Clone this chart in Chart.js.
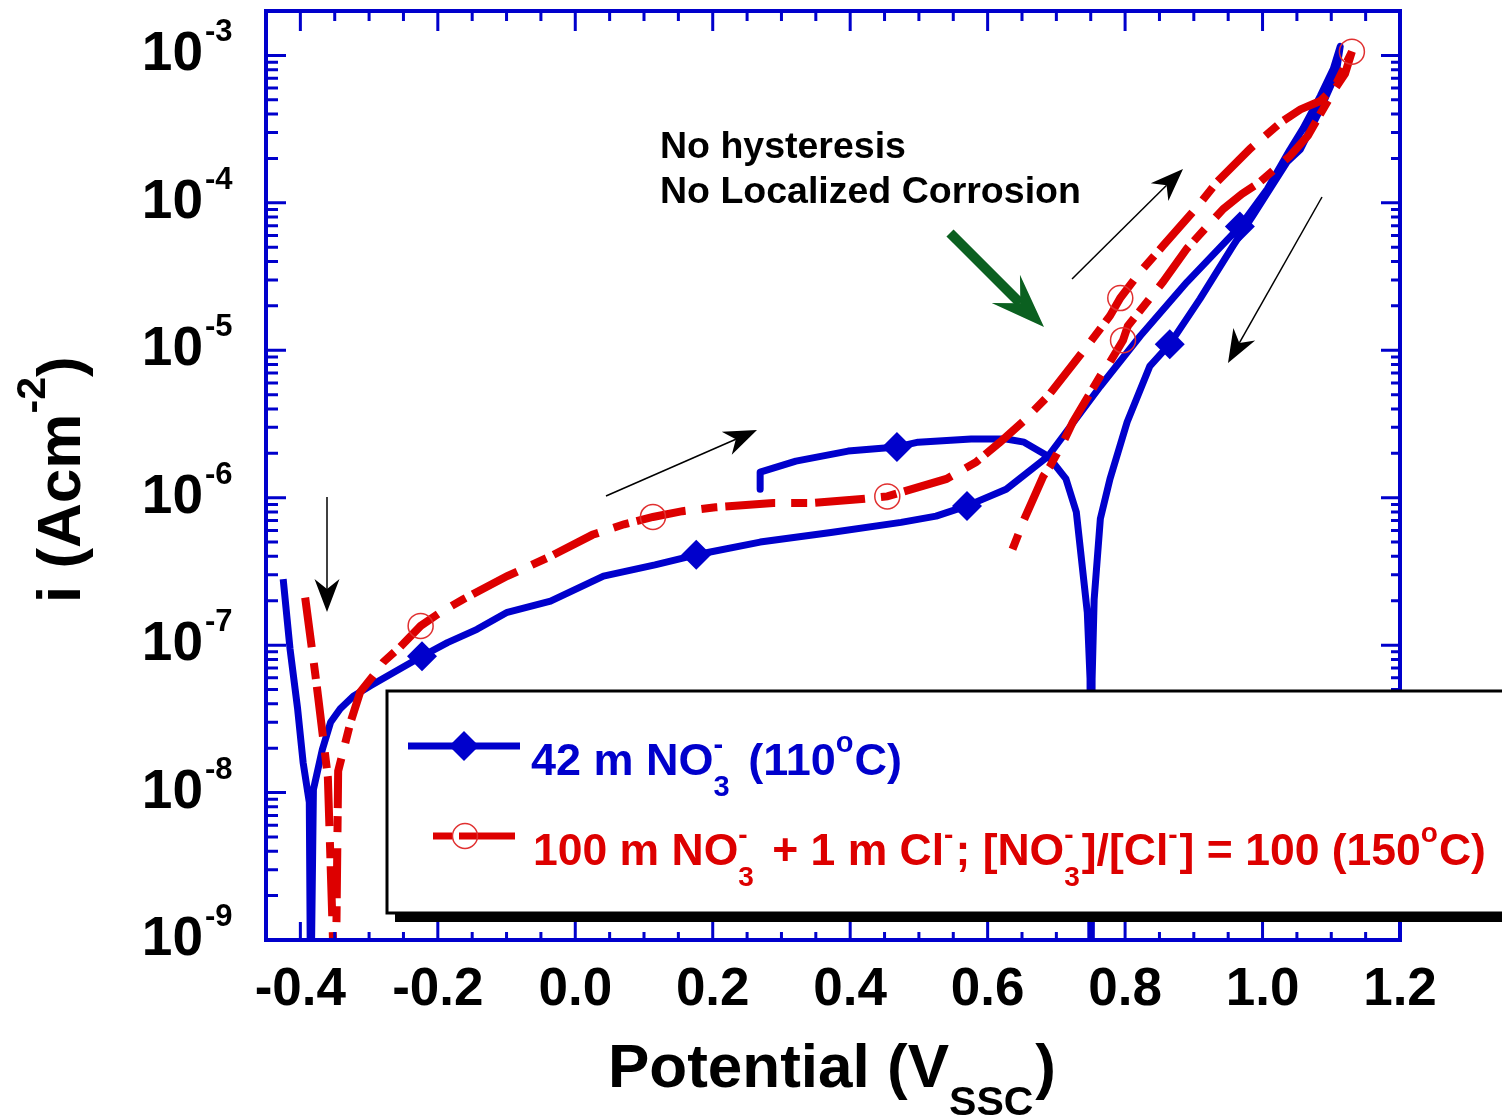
<!DOCTYPE html>
<html><head><meta charset="utf-8">
<script src="https://cdn.jsdelivr.net/npm/chart.js@4.4.1/dist/chart.umd.min.js"></script>
<style>html,body{margin:0;padding:0;background:#fff;} #wrap{width:1502px;height:1118px;position:relative;overflow:hidden;}</style>
</head><body><div id="wrap"><canvas id="c" width="1502" height="1118"></canvas></div>
<script>
// ---------- DATA ----------
// Potential (V vs SSC) and current density (A/cm2), series 1: 42 m NO3- (110 C), forward then reverse scan
const blueV = [-0.425,-0.415,-0.404,-0.396,-0.387,-0.385,-0.381,-0.368,-0.356,-0.342,-0.323,-0.298,-0.265,-0.223,-0.186,-0.143,-0.099,-0.036,0.041,0.116,0.176,0.269,0.372,0.474,0.525,0.570,0.627,0.688,0.764,0.822,0.890,0.967,1.007,1.040,1.059,1.084,1.103,1.113,
  1.107,1.084,1.055,1.036,0.986,0.957,0.909,0.865,0.836,0.803,0.778,0.764,0.755,0.752,0.7505,0.749,0.745,0.729,0.714,0.688,0.653,0.627,0.576,0.499,0.468,0.397,0.321,0.269,0.269];
const blueI = [2.8e-7,9.4e-8,3.7e-8,1.6e-8,8.6e-9,3e-10,1.05e-8,1.96e-8,3.0e-8,3.7e-8,4.5e-8,5.3e-8,6.5e-8,8.4e-8,1.04e-7,1.28e-7,1.67e-7,1.99e-7,2.94e-7,3.5e-7,4.1e-7,5.0e-7,5.8e-7,6.8e-7,7.5e-7,8.8e-7,1.14e-6,1.91e-6,5.7e-6,1.25e-5,2.9e-5,6.9e-5,1.24e-4,2.3e-4,3.2e-4,5.3e-4,8.1e-4,1.15e-3,
  7.5e-4,4.3e-4,2.3e-4,1.9e-4,8.2e-5,5.1e-5,2.23e-5,1.10e-5,7.8e-6,3.26e-6,1.34e-6,7.2e-7,2.05e-7,5.9e-8,3e-10,5.9e-8,1.67e-7,8.0e-7,1.34e-6,1.91e-6,2.38e-6,2.50e-6,2.50e-6,2.38e-6,2.21e-6,2.07e-6,1.77e-6,1.49e-6,1.14e-6];
const blueMarkerIdx = [13,20,25,31,45,62];

// series 2: 100 m NO3- + 1 m Cl- (150 C), forward then reverse scan
const redV = [-0.393,-0.378,-0.374,-0.360,-0.349,-0.345,-0.327,-0.313,-0.294,-0.279,-0.255,-0.225,-0.196,-0.163,-0.099,-0.036,0.025,0.071,0.113,0.156,0.204,0.288,0.342,0.417,0.454,0.540,0.583,0.618,0.652,0.688,0.745,0.778,0.793,0.822,0.855,0.905,0.934,0.982,1.028,1.055,1.084,1.105,1.130,
  1.120,1.105,1.084,1.066,1.040,0.996,0.970,0.943,0.890,0.855,0.804,0.797,0.778,0.768,0.724,0.710,0.691,0.681,0.653,0.633];
const redI = [2.1e-7,6.2e-8,4.4e-8,1.27e-8,3e-10,1.4e-8,3.0e-8,4.8e-8,6.2e-8,7.7e-8,9.7e-8,1.35e-7,1.67e-7,2.05e-7,2.94e-7,4.0e-7,5.6e-7,6.6e-7,7.4e-7,8.1e-7,8.6e-7,9.2e-7,9.2e-7,9.8e-7,1.02e-6,1.34e-6,1.74e-6,2.38e-6,3.3e-6,4.9e-6,1.07e-5,1.71e-5,2.26e-5,3.4e-5,5.1e-5,9.4e-5,1.39e-4,2.33e-4,3.55e-4,4.3e-4,4.9e-4,6.1e-4,1.06e-3,
  7.5e-4,5.9e-4,4.0e-4,2.85e-4,2.08e-4,1.38e-4,1.15e-4,9.1e-5,4.9e-5,2.9e-5,1.46e-5,1.17e-5,8.3e-6,7.2e-6,3.26e-6,2.38e-6,1.64e-6,1.40e-6,7.1e-7,4.1e-7];
const redMarkerIdx = [11,18,24,32,42,54];

const xTickValues = [-0.4,-0.2,0.0,0.2,0.4,0.6,0.8,1.0,1.2];
const xTickLabels = ['-0.4','-0.2','0.0','0.2','0.4','0.6','0.8','1.0','1.2'];
const yTickValues = [1e-9,1e-8,1e-7,1e-6,1e-5,1e-4,1e-3];
const yTickExponents = ['-9','-8','-7','-6','-5','-4','-3'];

// ---------- STYLE ----------
const FAM = "'Liberation Sans', Arial, Helvetica, sans-serif";
const BLUE = '#0000cc', RED = '#dd0000', AXIS = '#0000cc', GREEN = '#0b6020';

function drawRich(ctx, x, y, parts, size, small, color) {
  ctx.fillStyle = color; ctx.textAlign = 'left'; ctx.textBaseline = 'alphabetic';
  let cx = x;
  for (const p of parts) {
    if (p.t !== undefined) {
      ctx.font = `bold ${size}px ${FAM}`;
      ctx.fillText(p.t, cx, y); cx += ctx.measureText(p.t).width;
    } else {
      ctx.font = `bold ${small}px ${FAM}`;
      let w = 0;
      if (p.sub) { ctx.fillText(p.sub, cx, y + p.subOff); w = Math.max(w, ctx.measureText(p.sub).width); }
      if (p.sup) { ctx.fillText(p.sup, cx, y - p.supOff); w = Math.max(w, ctx.measureText(p.sup).width); }
      cx += w + (p.after || 0);
    }
  }
  return cx;
}

function arrow(ctx, x1, y1, x2, y2, color, lw, hl, hw, notch) {
  const a = Math.atan2(y2 - y1, x2 - x1), c = Math.cos(a), s = Math.sin(a);
  ctx.save();
  ctx.strokeStyle = color; ctx.fillStyle = color; ctx.lineWidth = lw; ctx.lineCap = 'butt';
  ctx.beginPath(); ctx.moveTo(x1, y1); ctx.lineTo(x2 - c * hl * notch, y2 - s * hl * notch); ctx.stroke();
  const bx = x2 - c * hl, by = y2 - s * hl, px = -s, py = c;
  ctx.beginPath();
  ctx.moveTo(x2, y2);
  ctx.lineTo(bx + px * hw, by + py * hw);
  ctx.lineTo(x2 - c * hl * notch, y2 - s * hl * notch);
  ctx.lineTo(bx - px * hw, by - py * hw);
  ctx.closePath(); ctx.fill();
  ctx.restore();
}

const decor = {
  id: 'decor',
  afterDraw(chart) {
    const ctx = chart.ctx, ca = chart.chartArea, xs = chart.scales.x, ys = chart.scales.y;
    ctx.save();
    // ---- axis frame and ticks ----
    ctx.strokeStyle = AXIS; ctx.lineWidth = 4;
    ctx.strokeRect(ca.left, ca.top, ca.right - ca.left, ca.bottom - ca.top);
    ctx.lineWidth = 3;
    ctx.beginPath();
    for (let k = -8; k <= 23; k++) {
      const v = k * 0.05; const px = xs.getPixelForValue(v);
      const major = (k % 4 === 0);
      const lb = major ? 18 : 8, lt = major ? 20 : 10;
      ctx.moveTo(px, ca.bottom); ctx.lineTo(px, ca.bottom - lb);
      ctx.moveTo(px, ca.top); ctx.lineTo(px, ca.top + lt);
    }
    for (let e = -9; e <= -3; e++) {
      for (let m = 1; m <= 9; m++) {
        const v = m * Math.pow(10, e);
        if (v >= ys.max * 0.999 || (e === -9 && m === 1)) continue;
        const py = ys.getPixelForValue(v);
        const major = m === 1;
        const ll = major ? 20 : 12, lr = major ? 19 : 9;
        ctx.moveTo(ca.left, py); ctx.lineTo(ca.left + ll, py);
        ctx.moveTo(ca.right, py); ctx.lineTo(ca.right - lr, py);
      }
    }
    ctx.stroke();

    // ---- y tick labels 10^n ----
    ctx.fillStyle = '#000';
    yTickValues.forEach((v, i) => {
      const py = ys.getPixelForValue(v);
      ctx.font = `bold 55px ${FAM}`; ctx.textAlign = 'right'; ctx.textBaseline = 'alphabetic';
      ctx.fillText('10', 203, py + 15);
      ctx.font = `bold 31px ${FAM}`; ctx.textAlign = 'left';
      ctx.fillText(yTickExponents[i], 205, py - 14);
    });

    // ---- axis titles ----
    drawRich(ctx, 608, 1087, [{t: 'Potential (V'}, {sub: 'SSC', subOff: 28, after: 2}, {t: ')'}], 62, 41, '#000');
    ctx.save();
    ctx.translate(80, 603); ctx.rotate(-Math.PI / 2);
    drawRich(ctx, 0, 0, [{t: 'i (Acm'}, {sup: '-2', supOff: 35}, {t: ')'}], 62, 41, '#000');
    ctx.restore();

    // ---- annotations ----
    ctx.fillStyle = '#000'; ctx.font = `bold 37.5px ${FAM}`; ctx.textAlign = 'left'; ctx.textBaseline = 'alphabetic';
    ctx.fillText('No hysteresis', 660, 158);
    ctx.fillText('No Localized Corrosion', 660, 203);

    arrow(ctx, 327, 497, 327, 612, '#000', 1.5, 33, 12.5, 0.7);
    arrow(ctx, 606, 496, 757, 430, '#000', 1.5, 33, 12.5, 0.7);
    arrow(ctx, 1072, 279, 1183, 169, '#000', 1.5, 33, 12.5, 0.7);
    arrow(ctx, 1322, 197, 1228, 363, '#000', 1.5, 33, 12.5, 0.7);
    arrow(ctx, 950, 233, 1044, 327, GREEN, 10, 54, 20, 0.62);

    // ---- legend box ----
    const L = 387, T = 691, R = 1520, B = 913;
    ctx.fillStyle = '#000'; ctx.fillRect(L + 8, T + 9, R - L, B - T);
    ctx.fillStyle = '#fff'; ctx.fillRect(L, T, R - L, B - T);
    ctx.strokeStyle = '#000'; ctx.lineWidth = 3; ctx.strokeRect(L, T, R - L, B - T);
    // blue entry
    ctx.strokeStyle = BLUE; ctx.lineWidth = 7; ctx.beginPath(); ctx.moveTo(408, 746); ctx.lineTo(520, 746); ctx.stroke();
    ctx.fillStyle = BLUE; ctx.beginPath();
    ctx.moveTo(464, 731); ctx.lineTo(479, 746); ctx.lineTo(464, 761); ctx.lineTo(449, 746); ctx.closePath(); ctx.fill();
    drawRich(ctx, 531, 775, [{t: '42 m NO'}, {sub: '3', sup: '-', subOff: 21, supOff: 21, after: 6}, {t: ' (110'}, {sup: 'o', supOff: 23, after: 1}, {t: 'C)'}], 45, 29, BLUE);
    // red entry
    ctx.strokeStyle = RED; ctx.lineWidth = 7; ctx.beginPath();
    ctx.moveTo(433, 836); ctx.lineTo(452, 836); ctx.moveTo(459, 836); ctx.lineTo(515, 836); ctx.stroke();
    ctx.strokeStyle = '#e03030'; ctx.lineWidth = 1.5; ctx.beginPath(); ctx.arc(465, 836, 12.5, 0, Math.PI * 2); ctx.stroke();
    drawRich(ctx, 533, 865, [{t: '100 m NO'}, {sub: '3', sup: '-', subOff: 21, supOff: 21, after: 6}, {t: ' + 1 m Cl'}, {sup: '-', supOff: 21, after: 2}, {t: '; [NO'}, {sub: '3', sup: '-', subOff: 21, supOff: 21, after: 2}, {t: ']/[Cl'}, {sup: '-', supOff: 21, after: 2}, {t: '] = 100 (150'}, {sup: 'o', supOff: 23, after: 1}, {t: 'C)'}], 44.5, 28, RED);
    ctx.restore();
  }
};

const toPts = (V, I) => V.map((v, k) => ({x: v, y: I[k]}));

new Chart(document.getElementById('c').getContext('2d'), {
  type: 'scatter',
  data: {
    datasets: [
      {
        label: '100 m NO3- + 1 m Cl-; [NO3-]/[Cl-] = 100 (150oC)',
        data: toPts(redV, redI), showLine: true, order: 0,
        borderColor: RED, borderWidth: 8, borderDash: [50, 16, 16, 8], borderCapStyle: 'butt', tension: 0,
        pointStyle: 'circle', pointRadius: c => redMarkerIdx.includes(c.dataIndex) ? 12.5 : 0,
        pointBackgroundColor: 'rgba(0,0,0,0)', pointBorderColor: '#e03030', pointBorderWidth: 1.5
      },
      {
        label: '42 m NO3- (110oC)',
        data: toPts(blueV, blueI), showLine: true, order: 1,
        borderColor: BLUE, borderWidth: 7, tension: 0, borderJoinStyle: 'round',
        pointStyle: 'rectRot', pointRadius: c => blueMarkerIdx.includes(c.dataIndex) ? 15 : 0,
        pointBackgroundColor: BLUE, pointBorderColor: BLUE, pointBorderWidth: 0
      }
    ]
  },
  options: {
    responsive: false, animation: false, events: [],
    layout: {padding: {left: 0, top: 11, right: 102, bottom: 0}},
    plugins: {legend: {display: false}, tooltip: {enabled: false}, title: {display: false}},
    scales: {
      x: {
        type: 'linear', min: -0.45, max: 1.2,
        afterFit: s => { s.height = 178; },
        afterBuildTicks: s => { s.ticks = xTickValues.map(v => ({value: v})); },
        ticks: {callback: (v, i) => xTickLabels[i], font: {family: FAM, size: 53, weight: 'bold', lineHeight: 1}, color: '#000', padding: 24, maxRotation: 0, autoSkip: false},
        grid: {display: false, drawTicks: false}, border: {display: false}
      },
      y: {
        type: 'logarithmic', min: 1e-9, max: 2e-3,
        afterFit: s => { s.width = 266; },
        afterBuildTicks: s => { s.ticks = yTickValues.map(v => ({value: v})); },
        ticks: {display: false},
        grid: {display: false, drawTicks: false}, border: {display: false}
      }
    }
  },
  plugins: [decor]
});
</script>
</body></html>
